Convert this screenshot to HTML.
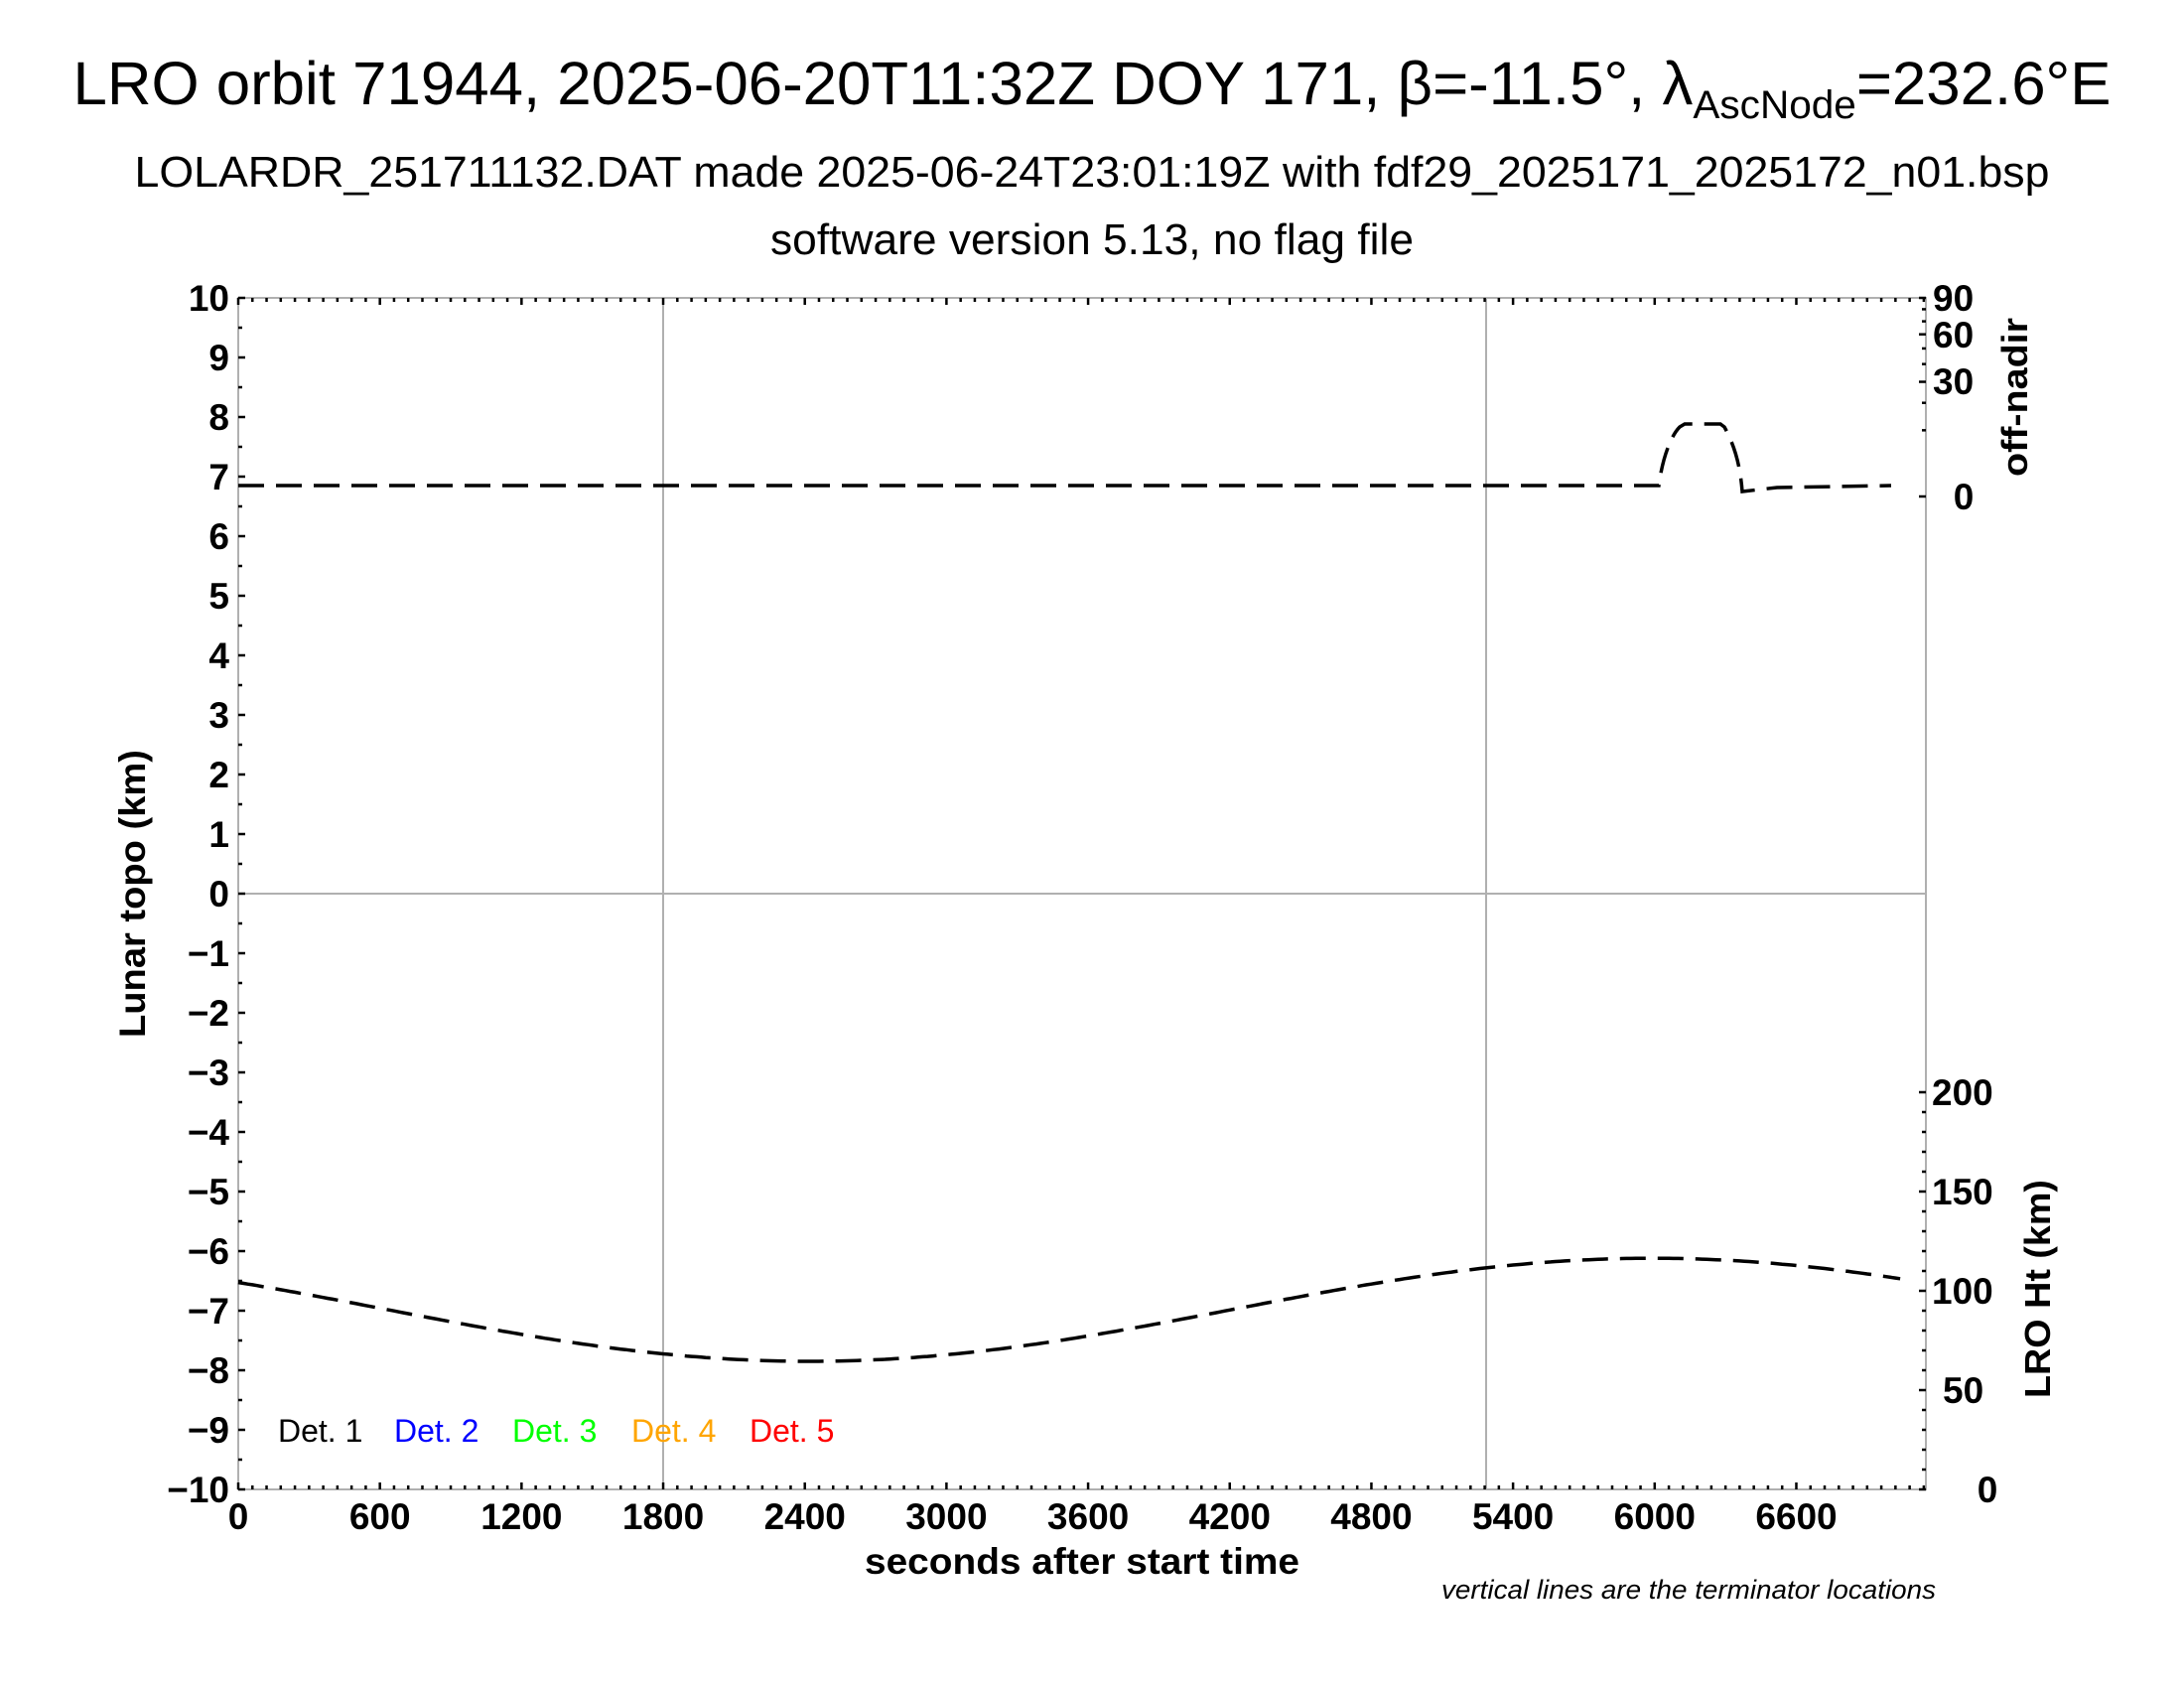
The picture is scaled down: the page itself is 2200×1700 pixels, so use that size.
<!DOCTYPE html>
<html><head><meta charset="utf-8"><style>
html,body{margin:0;padding:0;background:#fff;}
svg{display:block;}
text{font-family:"Liberation Sans",Arial,sans-serif;}
.b{font-weight:bold;}
</style></head><body>
<svg id="s" width="2200" height="1700" viewBox="0 0 2200 1700" xmlns="http://www.w3.org/2000/svg">
<rect width="2200" height="1700" fill="#fff"/>
<text x="1100" y="105" font-size="61" text-anchor="middle" textLength="2053" lengthAdjust="spacingAndGlyphs">LRO orbit 71944, 2025-06-20T11:32Z DOY 171, β=-11.5°, λ<tspan font-size="40" dy="14">AscNode</tspan><tspan dy="-14">=232.6°E</tspan></text>
<text x="1100" y="188" font-size="44" text-anchor="middle" textLength="1929" lengthAdjust="spacingAndGlyphs">LOLARDR_251711132.DAT made 2025-06-24T23:01:19Z with fdf29_2025171_2025172_n01.bsp</text>
<text x="1100" y="256" font-size="44" text-anchor="middle" textLength="648" lengthAdjust="spacingAndGlyphs">software version 5.13, no flag file</text>

<g stroke="#b0b0b0" stroke-width="2" fill="none">
<rect x="240" y="300" width="1700" height="1200"/>
<line x1="668" y1="300" x2="668" y2="1500"/>
<line x1="1497" y1="300" x2="1497" y2="1500"/>
<line x1="240" y1="900" x2="1940" y2="900"/>
</g>
<g id="ticks" stroke="#000" stroke-width="2.5"></g>

<g class="b" font-size="37" text-anchor="end" id="yl"></g>
<g class="b" font-size="37" text-anchor="middle" id="xl"></g>
<g class="b" font-size="37">
<text x="1947" y="313">90</text><text x="1947" y="350">60</text><text x="1947" y="397">30</text><text x="1978" y="513" text-anchor="middle">0</text>
<text x="1946" y="1113">200</text><text x="1946" y="1213">150</text><text x="1946" y="1313">100</text><text x="1957" y="1413">50</text><text x="2002" y="1513" text-anchor="middle">0</text>
</g>
<text class="b" x="1090" y="1585" font-size="37" text-anchor="middle" textLength="438" lengthAdjust="spacingAndGlyphs">seconds after start time</text>
<text x="1950" y="1610" font-size="27" font-style="italic" text-anchor="end" textLength="498" lengthAdjust="spacingAndGlyphs">vertical lines are the terminator locations</text>
<text class="b" font-size="37" text-anchor="middle" transform="translate(146,900) rotate(-90)" textLength="290" lengthAdjust="spacingAndGlyphs">Lunar topo (km)</text>
<text class="b" font-size="36" text-anchor="middle" transform="translate(2042,400) rotate(-90)" textLength="160" lengthAdjust="spacingAndGlyphs">off-nadir</text>
<text class="b" font-size="36" text-anchor="middle" transform="translate(2065,1298) rotate(-90)" textLength="220" lengthAdjust="spacingAndGlyphs">LRO Ht (km)</text>
<g font-size="32">
<text x="280" y="1452" fill="#000">Det. 1</text>
<text x="397" y="1452" fill="#0000ff">Det. 2</text>
<text x="516" y="1452" fill="#00ff00">Det. 3</text>
<text x="636" y="1452" fill="#ffa500">Det. 4</text>
<text x="755" y="1452" fill="#ff0000">Det. 5</text>
</g>
<path id="nad" fill="none" stroke="#000" stroke-width="3.5" stroke-dasharray="26,12" d="M240,489 L1671,489 C1674,465 1682,440 1692,430 L1697,427 L1733,427 L1737,430 C1748,450 1753,470 1755,495 L1790,491 L1905,489"/>
<path id="ht" fill="none" stroke="#000" stroke-width="3.5" stroke-dasharray="26,12"/>
</svg>
<script>
var ns="http://www.w3.org/2000/svg";
function el(p,t,a,txt){var e=document.createElementNS(ns,t);for(var k in a)e.setAttribute(k,a[k]);if(txt!=null)e.textContent=txt;document.getElementById(p).appendChild(e);return e;}
function L(x1,y1,x2,y2){el("ticks","line",{x1:x1,y1:y1,x2:x2,y2:y2});}
var k=0.2378;
for(var t=0;t<=7140;t+=60){var x=240+t*k;var m=(t%600==0)?7:4;L(x,1500,x,1500-m);L(x,300,x,300+m);}
for(var v=-10;v<=10;v+=0.5){var y=900-60*v;var m=(Math.abs(v%1)<1e-6)?7:4;L(240,y,240+m,y);}
for(var a=0;a<=90;a+=10){var y=500-200*Math.sqrt(a/90);var m=(a%30==0)?7:4;L(1940,y,1940-m,y);}
for(var h=0;h<=200;h+=10){var y=1500-2*h;var m=(h%50==0)?7:4;L(1940,y,1940-m,y);}
for(var v=-10;v<=10;v++){var s=(v<0?"\u2212"+(-v):""+v);el("yl","text",{x:231,y:900-60*v+13},s);}
for(var t=0;t<=6600;t+=600){el("xl","text",{x:240+t*k,y:1540},""+t);}
var d="";for(var t=0;t<=7040;t+=20){var v=-6.985-0.865*Math.cos(2*Math.PI*(t-2420)/7140);d+=(t?"L":"M")+(240+t*k).toFixed(1)+","+(900-60*v).toFixed(1);}
document.getElementById("ht").setAttribute("d",d);
</script>
</body></html>
